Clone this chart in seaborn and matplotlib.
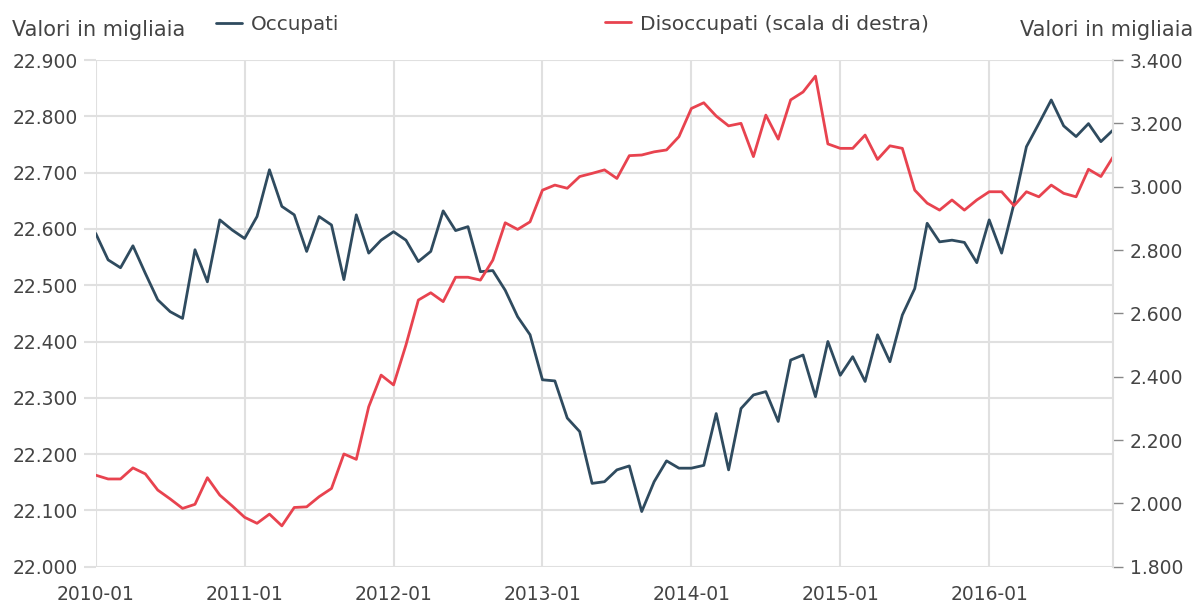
import numpy as np
import pandas as pd
import matplotlib
matplotlib.use("Agg")
import matplotlib.pyplot as plt
import seaborn as sns
from matplotlib.ticker import FuncFormatter, MultipleLocator

# ---- data (thousands) ----
anni_tick = ["2010-01", "2011-01", "2012-01", "2013-01", "2014-01", "2015-01", "2016-01"]

occupati = [
    22592, 22545, 22531, 22570, 22521, 22474, 22453, 22441, 22563, 22506, 22616, 22598,  # 2010
    22583, 22622, 22705, 22640, 22625, 22560, 22622, 22607, 22510, 22625, 22557, 22580,  # 2011
    22595, 22580, 22542, 22560, 22632, 22597, 22604, 22524, 22526, 22491, 22444, 22412,  # 2012
    22332, 22330, 22264, 22240, 22148, 22151, 22172, 22179, 22098, 22151, 22188, 22175,  # 2013
    22175, 22180, 22272, 22172, 22281, 22305, 22311, 22258, 22367, 22376, 22302, 22400,  # 2014
    22340, 22373, 22329, 22412, 22364, 22447, 22494, 22610, 22577, 22580, 22576, 22540,  # 2015
    22616, 22557, 22645, 22746, 22787, 22829, 22783, 22764, 22787, 22755, 22776,         # 2016
]

disoccupati = [
    2089, 2077, 2077, 2112, 2093, 2042, 2014, 1984, 1997, 2081, 2026, 1992,  # 2010
    1956, 1937, 1966, 1929, 1987, 1989, 2021, 2047, 2156, 2139, 2305, 2405,  # 2011
    2374, 2500, 2642, 2665, 2637, 2714, 2714, 2705, 2768, 2886, 2865, 2889,  # 2012
    2989, 3005, 2995, 3032, 3042, 3053, 3026, 3098, 3100, 3110, 3116, 3158,  # 2013
    3247, 3265, 3223, 3192, 3200, 3095, 3226, 3150, 3274, 3299, 3349, 3135,  # 2014
    3121, 3121, 3163, 3086, 3129, 3121, 2989, 2948, 2926, 2958, 2926, 2958,  # 2015
    2984, 2984, 2940, 2984, 2968, 3005, 2979, 2968, 3055, 3032, 3095,        # 2016
]

mesi = pd.period_range("2010-01", periods=len(occupati), freq="M").strftime("%Y-%m")
df = pd.DataFrame({"pos": np.arange(len(occupati)), "mese": mesi,
                   "Occupati": occupati, "Disoccupati": disoccupati})

BLUE = "#2f4b5f"
RED = "#e8434f"
GRID = "#e0e0e0"
TXT = "#444444"

sns.set_theme(style="white")
plt.rcParams["font.family"] = ["DejaVu Sans"]

fig = plt.figure(figsize=(11.98, 6.05), dpi=100)
ax = fig.add_axes([95.7 / 1198, 1 - 566.7 / 605, (1113.3 - 95.7) / 1198, (566.7 - 60) / 605])
ax2 = ax.twinx()

sns.lineplot(data=df, x="pos", y="Occupati", ax=ax, color=BLUE, linewidth=2.0, legend=False)
sns.lineplot(data=df, x="pos", y="Disoccupati", ax=ax2, color=RED, linewidth=2.0, legend=False)

fmt = FuncFormatter(lambda v, p: f"{v:,.0f}".replace(",", "."))

ax.set_xlim(0, len(occupati) - 1)
ax.set_ylim(22000, 22900)
ax2.set_ylim(1800, 3400)
ax.yaxis.set_major_locator(MultipleLocator(100))
ax2.yaxis.set_major_locator(MultipleLocator(200))
ax.yaxis.set_major_formatter(fmt)
ax2.yaxis.set_major_formatter(fmt)

tick_pos = [df.index[df["mese"] == t][0] for t in anni_tick]
ax.set_xticks(tick_pos)
ax.set_xticklabels(anni_tick)

ax.grid(True, color=GRID, linewidth=1.5)
ax.set_axisbelow(True)
ax2.grid(False)

for s in ax.spines.values():
    s.set_visible(False)
for s in ax2.spines.values():
    s.set_visible(False)
ax2.spines["right"].set_visible(True)
ax2.spines["right"].set_color(GRID)
ax2.spines["right"].set_linewidth(1.5)

ax.set_xlabel("")
ax.set_ylabel("")
ax2.set_ylabel("")

ax.tick_params(axis="y", length=9, width=1.5, color=GRID, pad=4, labelsize=13.5, labelcolor=TXT)
ax.tick_params(axis="x", length=5, width=1.5, color=GRID, pad=8, labelsize=13.5, labelcolor=TXT)
ax2.tick_params(axis="y", length=7, width=1.0, color="#888888", pad=5, labelsize=13.5, labelcolor=TXT)

fig.text(12 / 1198, 1 - 30 / 605, "Valori in migliaia", ha="left", va="center",
         fontsize=15, color=TXT)
fig.text(1193 / 1198, 1 - 30 / 605, "Valori in migliaia", ha="right", va="center",
         fontsize=15, color=TXT)

h1 = ax.get_lines()[0]
h2 = ax2.get_lines()[0]
leg1 = fig.legend([h1], ["Occupati"], loc="center left",
                  bbox_to_anchor=(216 / 1198, 1 - 24 / 605), frameon=False,
                  fontsize=14.3, handlelength=1.3, handletextpad=0.45,
                  borderpad=0, borderaxespad=0, labelcolor=TXT)
leg2 = fig.legend([h2], ["Disoccupati (scala di destra)"], loc="center left",
                  bbox_to_anchor=(605 / 1198, 1 - 24 / 605), frameon=False,
                  fontsize=14.6, handlelength=1.3, handletextpad=0.45,
                  borderpad=0, borderaxespad=0, labelcolor=TXT)

fig.savefig("out.png", dpi=100, facecolor="white")
